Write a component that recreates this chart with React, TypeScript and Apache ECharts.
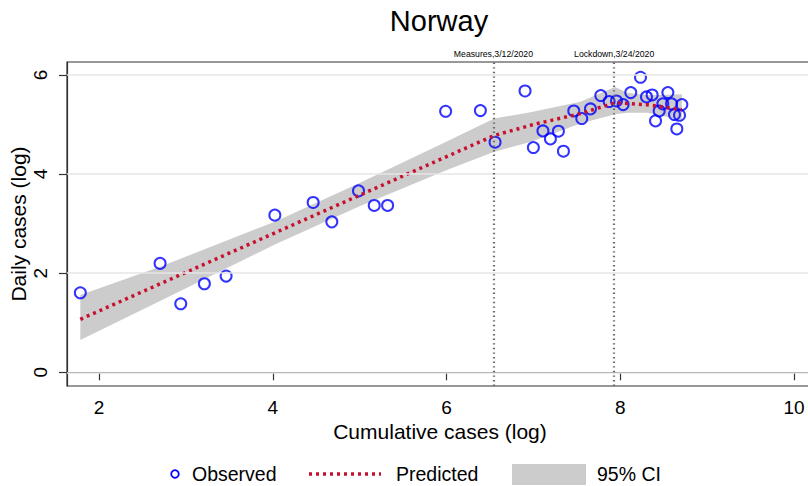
import React, { useEffect, useRef } from 'react';
import * as echarts from 'echarts';

// Observed points (log cumulative cases, log daily cases)
const obsX = [1.785, 2.703, 2.941, 3.213, 3.463, 4.024, 4.465, 4.68, 4.987, 5.168, 5.322, 5.99, 6.39, 6.559, 6.904, 7.0, 7.11, 7.196, 7.288, 7.346, 7.465, 7.557, 7.657, 7.776, 7.872, 7.956, 8.033, 8.121, 8.233, 8.302, 8.367, 8.406, 8.448, 8.49, 8.548, 8.59, 8.624, 8.651, 8.682, 8.709];
const obsY = [1.605, 2.198, 1.383, 1.787, 1.942, 3.171, 3.427, 3.036, 3.661, 3.367, 3.367, 5.268, 5.282, 4.643, 5.677, 4.536, 4.871, 4.71, 4.865, 4.462, 5.274, 5.121, 5.315, 5.585, 5.464, 5.476, 5.403, 5.645, 5.954, 5.557, 5.597, 5.073, 5.274, 5.416, 5.645, 5.416, 5.202, 4.911, 5.187, 5.403];

// Predicted line
const predX = [1.785, 6.55, 7.0, 7.54, 7.94, 8.31, 8.709];
const predY = [1.07, 4.78, 5.0, 5.22, 5.44, 5.4, 5.3];

// 95% confidence band
const ciX = [1.785, 2.703, 4.024, 4.987, 5.99, 6.55, 6.966, 7.541, 7.94, 8.08, 8.31, 8.709];
const ciLo = [0.65, 1.44, 2.58, 3.34, 4.07, 4.45, 4.65, 5.02, 5.21, 5.24, 5.24, 5.09];
const ciHi = [1.56, 2.13, 3.04, 3.81, 4.65, 5.12, 5.25, 5.46, 5.76, 5.64, 5.59, 5.61];

// Event lines
const eventLabels = ['Measures,3/12/2020', 'Lockdown,3/24/2020'];
const eventX = [6.54, 7.93];

// Ticks
const xTicks = [2, 4, 6, 8, 10];
const yTicks = [0, 2, 4, 6];

const FONT = "'Liberation Sans', Arial, Helvetica, sans-serif";
const NARROW = "'Liberation Sans Narrow', 'Arial Narrow', 'Liberation Sans', Arial, sans-serif";
const BLUE = '#0000ff';
const RED = '#c8102e';
const BAND = '#cccccc';

export default function App() {
  const ref = useRef<HTMLDivElement>(null);

  useEffect(() => {
    if (!ref.current) return;
    const chart = echarts.init(ref.current, null, { renderer: 'svg' });

    const option: any = {
      animation: false,
      backgroundColor: '#ffffff',
      grid: {
        left: 67,
        top: 62,
        width: 743,
        height: 324,
        show: true,
        borderColor: '#333',
        borderWidth: 1.2,
        backgroundColor: 'transparent',
        outerBoundsMode: 'none',
        containLabel: false,
      },
      xAxis: {
        type: 'value',
        min: 1.6317,
        max: 10.184,
        axisLine: { show: true, lineStyle: { color: '#333', width: 1.2 } },
        axisTick: { show: true, length: 8, customValues: xTicks, lineStyle: { color: '#333', width: 1.2 } },
        axisLabel: { customValues: xTicks, margin: 12, fontFamily: FONT, fontSize: 19, color: '#000' },
        splitLine: { show: false },
      },
      yAxis: {
        type: 'value',
        min: -0.2765,
        max: 6.262,
        axisLine: { show: true, lineStyle: { color: '#333', width: 1.2 } },
        axisTick: { show: true, length: 8, customValues: yTicks, lineStyle: { color: '#333', width: 1.2 } },
        axisLabel: { customValues: yTicks, rotate: 90, margin: 17, fontFamily: FONT, fontSize: 19, color: '#000' },
        splitLine: { show: false },
      },
      graphic: [
        {
          type: 'text',
          x: 439,
          y: 21,
          style: { text: 'Norway', fontFamily: FONT, fontSize: 29, fill: '#000', align: 'center', verticalAlign: 'middle' },
        },
        {
          type: 'text',
          x: 440,
          y: 431,
          style: { text: 'Cumulative cases (log)', fontFamily: FONT, fontSize: 21, fill: '#000', align: 'center', verticalAlign: 'middle' },
        },
        {
          type: 'text',
          x: 18,
          y: 224,
          rotation: Math.PI / 2,
          style: { text: 'Daily cases (log)', fontFamily: FONT, fontSize: 21, fill: '#000', align: 'center', verticalAlign: 'middle' },
        },
        { type: 'circle', shape: { cx: 175, cy: 474, r: 3.8 }, style: { fill: 'none', stroke: BLUE, lineWidth: 1.8 } },
        { type: 'text', x: 192, y: 474, style: { text: 'Observed', fontFamily: FONT, fontSize: 19.5, fill: '#000', verticalAlign: 'middle' } },
        { type: 'line', shape: { x1: 309, y1: 474, x2: 381, y2: 474 }, style: { stroke: RED, lineWidth: 3.5, lineDash: [3, 4] } },
        { type: 'text', x: 396, y: 474, style: { text: 'Predicted', fontFamily: FONT, fontSize: 19.5, fill: '#000', verticalAlign: 'middle' } },
        { type: 'rect', shape: { x: 512, y: 464, width: 74, height: 21 }, style: { fill: BAND } },
        { type: 'text', x: 597, y: 474, style: { text: '95% CI', fontFamily: FONT, fontSize: 19.5, fill: '#000', verticalAlign: 'middle' } },
      ],
      series: [
        {
          name: 'grid',
          type: 'line',
          data: [],
          z: 0,
          silent: true,
          markLine: {
            silent: true,
            symbol: 'none',
            label: { show: false },
            lineStyle: { color: '#e6e6e6', width: 1.6, type: 'solid' },
            data: yTicks.map((v) => ({ yAxis: v })),
          },
        },
        {
          name: '95% CI',
          type: 'custom',
          z: 1,
          silent: true,
          data: [[ciX[0], ciLo[0]]],
          renderItem: (_params: any, api: any) => {
            const upper = ciX.map((x, i) => api.coord([x, ciHi[i]]));
            const lower = ciX.map((x, i) => api.coord([x, ciLo[i]])).reverse();
            return {
              type: 'polygon',
              shape: { points: upper.concat(lower) },
              style: { fill: BAND },
            };
          },
        },
        {
          name: 'events',
          type: 'line',
          data: [],
          z: 2,
          silent: true,
          markLine: {
            silent: true,
            symbol: 'none',
            lineStyle: { color: '#6a6a6a', width: 2.2, type: [1.4, 3.2] },
            label: { show: true, position: 'end', distance: 4, fontFamily: NARROW, fontSize: 8.7, color: '#000' },
            data: eventX.map((x, i) => ({ xAxis: x, label: { formatter: eventLabels[i] } })),
          },
        },
        {
          name: 'Observed',
          type: 'scatter',
          z: 3,
          symbol: 'circle',
          symbolSize: 11,
          itemStyle: { color: 'rgba(0,0,0,0)', borderColor: BLUE, borderWidth: 2 },
          data: obsX.map((x, i) => [x, obsY[i]]),
        },
        {
          name: 'Predicted',
          type: 'line',
          z: 4,
          symbol: 'none',
          lineStyle: { color: RED, width: 3.5, type: [3, 4] },
          data: predX.map((x, i) => [x, predY[i]]),
        },
      ],
    };

    chart.setOption(option);
    return () => chart.dispose();
  }, []);

  return <div ref={ref} style={{ position: 'absolute', left: 0, top: 0, width: 808, height: 486 }} />;
}
